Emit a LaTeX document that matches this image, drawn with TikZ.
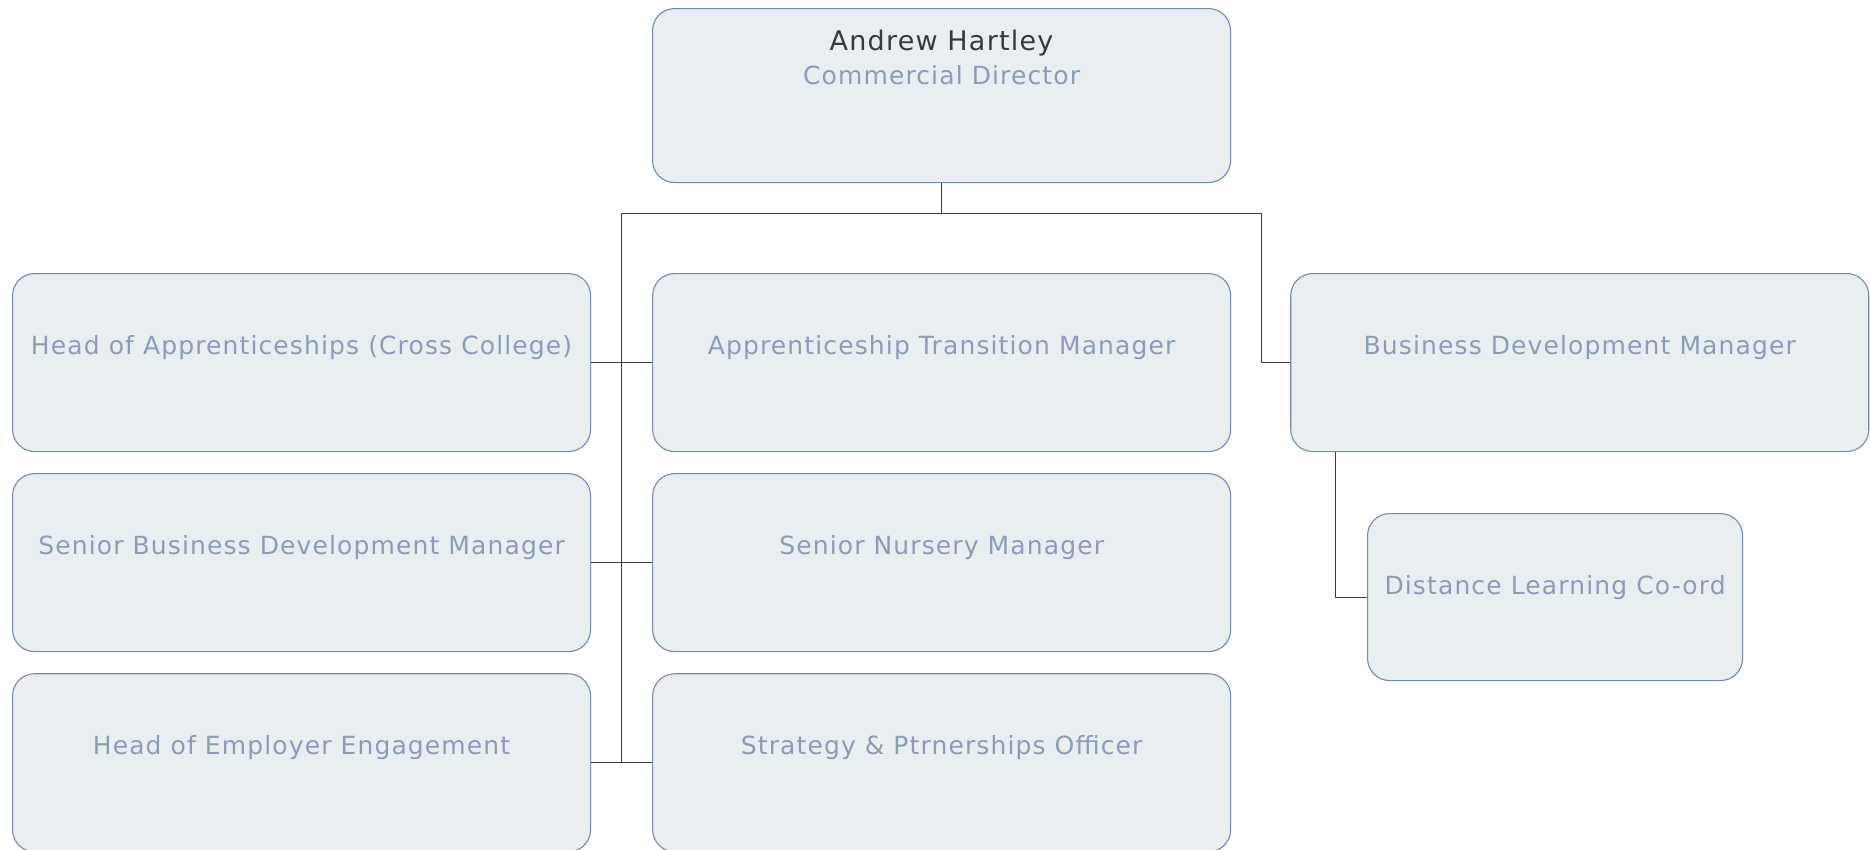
\documentclass[tikz,border=0pt]{standalone}
\usepackage{fontspec}
\setmainfont[LetterSpace=4.5]{DejaVu Sans}
\usepackage{xcolor}
\usepackage{tikz}
\usetikzlibrary{positioning}

\definecolor{boxfill}{HTML}{E9EEF1}
\definecolor{boxline}{HTML}{7289AD}
\definecolor{titlecol}{HTML}{8C9DB7}
\definecolor{namecol}{HTML}{3A3A3A}
\definecolor{wirecol}{HTML}{3C3C3C}

\begin{document}
\begin{tikzpicture}[x=1pt, y=-1pt,
  post/.style={draw=boxline, fill=boxfill, rounded corners=22pt, line width=1.1pt,
    inner sep=0pt, minimum width=578pt, minimum height=178pt,
    text height=81pt, text depth=97pt, text=titlecol,
    font=\fontsize{25}{34}\selectfont},
  wire/.style={draw=wirecol, line width=1pt}]
\useasboundingbox (0,0) rectangle (1870,849);
% director
\node[post, anchor=north west, minimum height=174pt, text height=76pt, text depth=98pt, align=center] (dir) at (652,8)
  {{\fontsize{27}{34}\selectfont\color{namecol}Andrew Hartley}\\Commercial Director};
% first row
\node[post, anchor=north west] (hoa) at (12,273) {Head of Apprenticeships (Cross College)};
\node[post, right=61pt of hoa] (atm) {Apprenticeship Transition Manager};
\node[post, right=59pt of atm] (bdm) {Business Development Manager};
% lower rows
\node[post, below=21pt of hoa] (sbdm) {Senior Business Development Manager};
\node[post, below=21pt of sbdm] (hee) {Head of Employer Engagement};
\node[post, below=21pt of atm] (snm) {Senior Nursery Manager};
\node[post, below=21pt of snm] (spo) {Strategy \& Ptrnerships Officer};
\node[post, anchor=north west, minimum width=375pt, minimum height=167pt, text depth=86pt] (dlc) at (1367,513) {Distance Learning Co-ord};
% connectors
\coordinate (busL) at (621,213);
\coordinate (busR) at (1261,213);
\draw[wire] (dir.south) -- (dir.south |- busL);
\draw[wire] (busL) -- (busR);
\draw[wire] (busL) -- (busL |- hee.east);
\draw[wire] (hoa.east) -- (atm.west);
\draw[wire] (sbdm.east) -- (snm.west);
\draw[wire] (hee.east) -- (spo.west);
\draw[wire] (busR) |- (bdm.west);
\draw[wire] ([xshift=45pt]bdm.south west) |- (dlc.west);
\end{tikzpicture}
\end{document}
